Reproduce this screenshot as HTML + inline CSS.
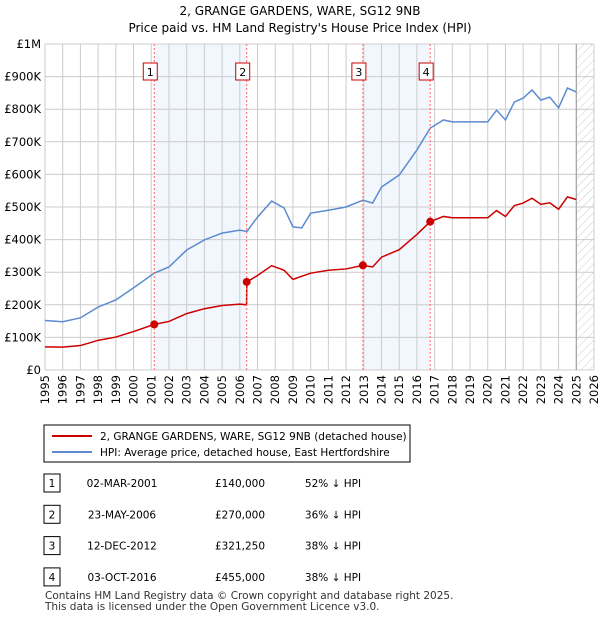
<!DOCTYPE html>
<html><head><meta charset="utf-8"><style>
body{margin:0;background:#fff;font-family:"DejaVu Sans",sans-serif;}
svg text{font-family:"DejaVu Sans",sans-serif;}
</style></head><body>
<svg width="600" height="620" xmlns="http://www.w3.org/2000/svg">
<defs><pattern id="hatch" width="6" height="6" patternUnits="userSpaceOnUse" patternTransform="rotate(45)"><line x1="0" y1="0" x2="0" y2="6" stroke="#ccc" stroke-width="1"/></pattern></defs>
<text x="300" y="15" text-anchor="middle" font-size="12">2, GRANGE GARDENS, WARE, SG12 9NB</text>
<text x="300" y="32" text-anchor="middle" font-size="12">Price paid vs. HM Land Registry's House Price Index (HPI)</text>
<g id="grid"></g><g id="plot"></g><g id="axes"></g>
<rect x="44" y="425" width="366" height="37" fill="#fff" stroke="#000"/>
<line x1="52" y1="436" x2="92" y2="436" stroke="#cc0000" stroke-width="2"/>
<text x="100" y="440" font-size="10.5">2, GRANGE GARDENS, WARE, SG12 9NB (detached house)</text>
<line x1="52" y1="452" x2="92" y2="452" stroke="#5b8bd0" stroke-width="2"/>
<text x="100" y="456" font-size="10.5">HPI: Average price, detached house, East Hertfordshire</text>
<g id="table" font-size="10.5"></g>
<text x="45" y="599" font-size="10.5" fill="#333">Contains HM Land Registry data © Crown copyright and database right 2025.</text>
<text x="45" y="610" font-size="10.5" fill="#333">This data is licensed under the Open Government Licence v3.0.</text>
</svg>
<script>
const hpiYears=[1995,1996,1997,1998,1999,2000,2001.17,2002,2003,2004,2005,2006,2006.4,2007,2007.8,2008.5,2009,2009.5,2010,2011,2012,2012.95,2013.5,2014,2015,2016,2016.75,2017.5,2018,2019,2020,2020.5,2021,2021.5,2022,2022.5,2023,2023.5,2024,2024.5,2025];
const hpiValues=[152,148,160,193,215,252,297,316,368,399,420,429,425,469,518,497,439,436,481,490,500,521,512,561,598,675,742,767,761,761,761,797,767,822,834,859,828,837,804,865,853];
const redYears=[1995,1996,1997,1998,1999,2000,2001.17,2002,2003,2004,2005,2006,2006.38,2006.4,2007,2007.8,2008.5,2009,2010,2011,2012,2012.95,2013.5,2014,2015,2016,2016.75,2017.5,2018,2019,2020,2020.5,2021,2021.5,2022,2022.5,2023,2023.5,2024,2024.5,2025];
const redValues=[71,70,75,91,101,118,140,149,173,188,198,202,200,270,290,320,306,278,297,306,310,321,316,346,369,416,455,471,467,467,467,489,471,504,512,527,508,513,493,531,523];
const saleLabels=["1","2","3","4"];
const saleYears=[2001.17,2006.39,2012.95,2016.75];
const salePrices=[140,270,321.25,455];
const saleDates=["02-MAR-2001","23-MAY-2006","12-DEC-2012","03-OCT-2016"];
const salePriceText=["£140,000","£270,000","£321,250","£455,000"];
const saleHpiText=["52% ↓ HPI","36% ↓ HPI","38% ↓ HPI","38% ↓ HPI"];
const yTicks=[0,100,200,300,400,500,600,700,800,900,1000];
const yTickLabels=["£0","£100K","£200K","£300K","£400K","£500K","£600K","£700K","£800K","£900K","£1M"];
const xTicks=[1995,1996,1997,1998,1999,2000,2001,2002,2003,2004,2005,2006,2007,2008,2009,2010,2011,2012,2013,2014,2015,2016,2017,2018,2019,2020,2021,2022,2023,2024,2025,2026];
const NS="http://www.w3.org/2000/svg";
const X0=45,X1=594,Y0=370,Y1=44;
const xs=y=>X0+(y-1995)/31*(X1-X0);
const ys=v=>Y0-v/1000*(Y0-Y1);
function mk(parent,tag,attrs){const e=document.createElementNS(NS,tag);for(const k in attrs)e.setAttribute(k,attrs[k]);document.getElementById(parent).appendChild(e);return e;}
for(let i=0;i<saleYears.length;i+=2){const r=mk("grid","rect",{x:xs(saleYears[i]),y:Y1,width:xs(saleYears[i+1])-xs(saleYears[i]),height:Y0-Y1,fill:"#f2f6fd"});

}
const h=mk("grid","rect",{x:xs(2025),y:Y1,width:X1-xs(2025),height:Y0-Y1,fill:"url(#hatch)"});


yTicks.forEach((t,i)=>{const l=mk("grid","line",{x1:X0,x2:X1,y1:ys(t),y2:ys(t),stroke:"#ccc"});


const tx=mk("axes","text",{x:X0-4,y:ys(t)+4,"text-anchor":"end","font-size":"11.5"});tx.textContent=yTickLabels[i];

});
xTicks.forEach(t=>{const l=mk("grid","line",{x1:xs(t),x2:xs(t),y1:Y1,y2:Y0,stroke:"#ccc"});


const tx=mk("axes","text",{x:0,y:0,"text-anchor":"end","font-size":"11.5",transform:`translate(${xs(t)+4},${Y0+5}) rotate(-90)`});tx.textContent=t;

});
const vl=mk("grid","line",{x1:xs(2025),x2:xs(2025),y1:Y1,y2:Y0,stroke:"#999"});


const hp=mk("plot","polyline",{points:hpiYears.map((y,i)=>xs(y)+","+ys(hpiValues[i])).join(" "),fill:"none",stroke:"#5b8bd0","stroke-width":"1.5"});


const rp=mk("plot","polyline",{points:redYears.map((y,i)=>xs(y)+","+ys(redValues[i])).join(" "),fill:"none",stroke:"#cc0000","stroke-width":"1.5"});


saleYears.forEach((y,i)=>{
const d=mk("plot","line",{x1:xs(y),x2:xs(y),y1:Y1,y2:Y0,stroke:"#ff6666","stroke-dasharray":"2,2"});


const c=mk("plot","circle",{cx:xs(y),cy:ys(salePrices[i]),r:4,fill:"#cc0000"});


const b=mk("plot","rect",{x:xs(y)-11,y:63,width:14,height:17,fill:"#fff",stroke:"#cc0000"});


const t=mk("plot","text",{x:xs(y)-4,y:76,"text-anchor":"middle","font-size":"11"});t.textContent=saleLabels[i];


const ry=483+i*31.3;
const tb=mk("table","rect",{x:44,y:ry-9,width:16,height:18,fill:"#fff",stroke:"#000"});


const cells=[[52,saleLabels[i]],[122,saleDates[i]],[240,salePriceText[i]],[333,saleHpiText[i]]];
cells.forEach(([cx,txt],j)=>{const e=mk("table","text",{x:cx,y:ry+4,"text-anchor":"middle"});e.textContent=txt;

});
});
</script>
</body></html>
